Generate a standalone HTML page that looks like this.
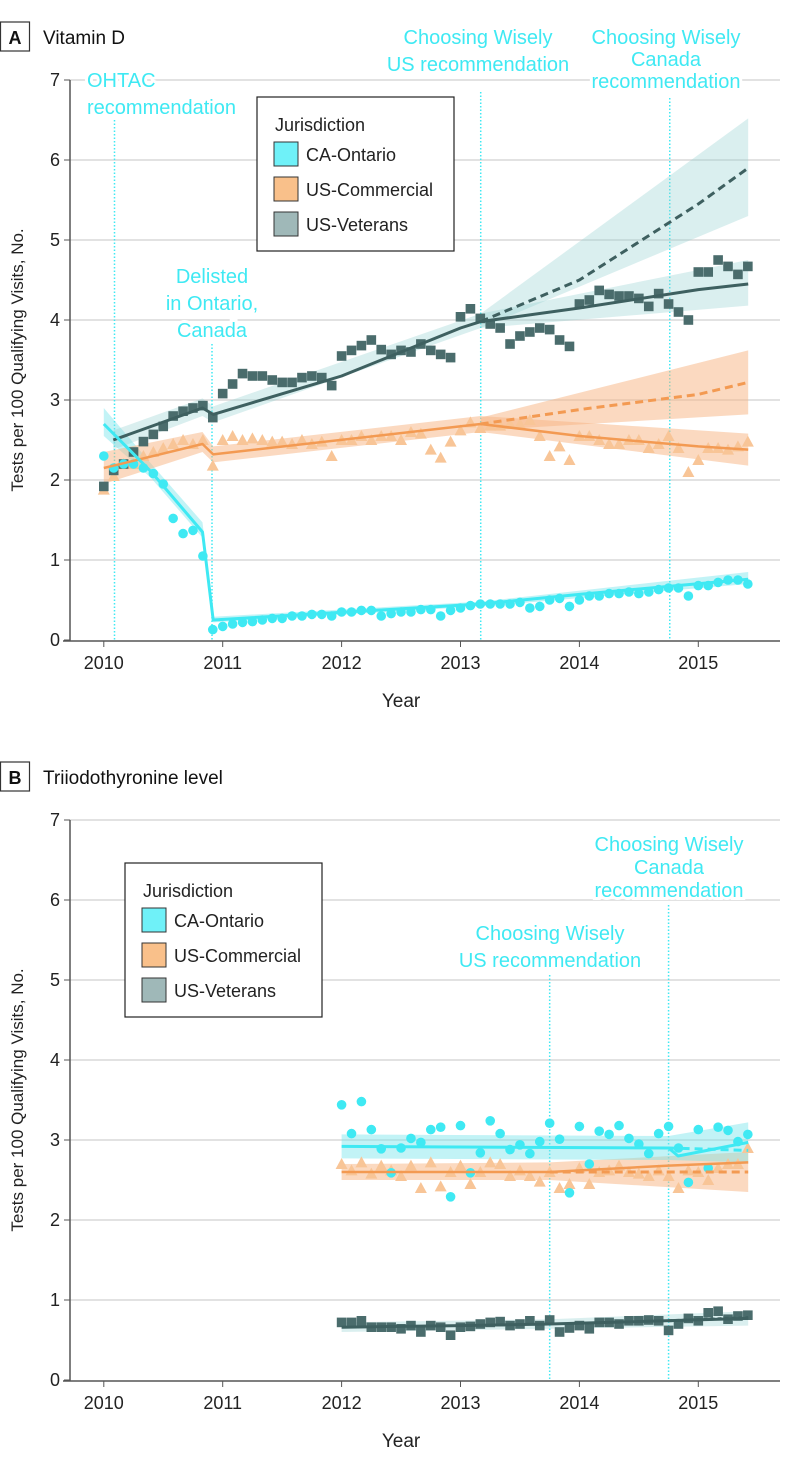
<!DOCTYPE html>
<html><head><meta charset="utf-8"><style>
html,body{margin:0;padding:0;background:#fff;}
svg{display:block;font-family:"Liberation Sans Narrow","Liberation Sans",sans-serif;}
</style></head><body>
<svg id="chart" width="794" height="1469" viewBox="0 0 794 1469" xmlns="http://www.w3.org/2000/svg"></svg>
<script>
// ---------- Panel A: Vitamin D data (monthly from 2010.0) ----------
const aOntario = [2.3,2.15,2.2,2.2,2.15,2.08,1.95,1.52,1.33,1.37,1.05,0.13,
 0.17,0.2,0.22,0.23,0.25,0.27,0.27,0.3,0.3,0.32,0.32,0.3,
 0.35,0.35,0.37,0.37,0.3,0.33,0.35,0.35,0.38,0.38,0.3,0.37,
 0.4,0.43,0.45,0.45,0.45,0.45,0.47,0.4,0.42,0.5,0.52,0.42,
 0.5,0.55,0.55,0.58,0.58,0.6,0.58,0.6,0.63,0.65,0.65,0.55,
 0.68,0.68,0.72,0.75,0.75,0.7];
const aCommercial = [1.88,2.05,2.2,2.2,2.3,2.35,2.4,2.45,2.5,2.45,2.5,2.18,
 2.5,2.55,2.5,2.52,2.5,2.48,2.48,2.45,2.5,2.45,2.48,2.3,
 2.5,2.5,2.55,2.5,2.55,2.55,2.5,2.6,2.58,2.38,2.28,2.48,
 2.62,2.72,2.65,2.68,2.68,2.7,2.7,2.75,2.55,2.3,2.42,2.25,
 2.55,2.55,2.5,2.45,2.45,2.5,2.5,2.4,2.45,2.55,2.4,2.1,
 2.25,2.4,2.4,2.38,2.42,2.48];
const aVeterans = [1.92,2.12,2.2,2.35,2.48,2.57,2.67,2.8,2.86,2.9,2.93,2.78,
 3.08,3.2,3.33,3.3,3.3,3.25,3.22,3.22,3.28,3.3,3.28,3.18,
 3.55,3.62,3.68,3.75,3.63,3.57,3.62,3.6,3.7,3.62,3.57,3.53,
 4.04,4.14,4.02,3.95,3.9,3.7,3.8,3.85,3.9,3.88,3.75,3.67,
 4.2,4.25,4.37,4.32,4.3,4.3,4.27,4.17,4.33,4.2,4.1,4.0,
 4.6,4.6,4.75,4.67,4.57,4.67];
// fitted knots [year, value]
const aOntFit = [[2010,2.7],[2010.4,2.1],[2010.83,1.35],[2010.92,0.25],[2013.17,0.45],[2014,0.57],[2015.42,0.76]];
const aOntLo  = [[2010,2.55],[2010.4,2.02],[2010.83,1.28],[2010.92,0.22],[2013.17,0.42],[2015.42,0.7]];
const aOntHi  = [[2010,2.9],[2010.4,2.2],[2010.83,1.47],[2010.92,0.29],[2013.17,0.48],[2015.42,0.85]];
const aComFit = [[2010,2.15],[2010.83,2.45],[2010.92,2.32],[2013.17,2.7],[2014,2.55],[2015,2.42],[2015.42,2.38]];
const aComLo  = [[2010,1.95],[2010.83,2.35],[2010.92,2.22],[2013.17,2.6],[2015.42,2.18]];
const aComHi  = [[2010,2.35],[2010.83,2.6],[2010.92,2.42],[2013.17,2.8],[2015.42,2.58]];
const aComCF  = [[2013.17,2.7],[2014,2.88],[2015,3.07],[2015.42,3.22]];
const aComCFLo= [[2013.17,2.62],[2015.42,2.82]];
const aComCFHi= [[2013.17,2.78],[2015.42,3.62]];
const aVetFit = [[2010.08,2.5],[2010.83,2.9],[2010.92,2.82],[2012,3.3],[2013,3.9],[2013.17,3.98],[2014,4.15],[2015,4.38],[2015.42,4.45]];
const aVetLo  = [[2010.08,2.38],[2010.83,2.8],[2010.92,2.72],[2013.17,3.9],[2015.42,4.18]];
const aVetHi  = [[2010.08,2.62],[2010.83,3.02],[2010.92,2.92],[2013.17,4.08],[2015.42,4.75]];
const aVetCF  = [[2013.17,3.98],[2014,4.5],[2015,5.45],[2015.42,5.9]];
const aVetCFLo= [[2013.17,3.9],[2015.42,5.3]];
const aVetCFHi= [[2013.17,4.08],[2015.42,6.52]];

// ---------- Panel B: Triiodothyronine data (monthly from 2012.0) ----------
const bOntario = [3.44,3.08,3.48,3.13,2.89,2.59,2.9,3.02,2.97,3.13,3.16,2.29,
 3.18,2.59,2.84,3.24,3.08,2.88,2.94,2.83,2.98,3.21,3.01,2.34,
 3.17,2.7,3.11,3.07,3.18,3.02,2.95,2.83,3.08,3.17,2.9,2.47,
 3.13,2.65,3.16,3.12,2.98,3.07];
const bCommercial = [2.7,2.62,2.72,2.58,2.68,2.62,2.55,2.68,2.4,2.72,2.42,2.6,
 2.68,2.45,2.6,2.72,2.7,2.55,2.62,2.55,2.48,2.6,2.4,2.45,
 2.65,2.45,2.6,2.62,2.68,2.6,2.58,2.55,2.62,2.55,2.4,2.62,
 2.6,2.5,2.65,2.7,2.7,2.9];
const bVeterans = [0.72,0.72,0.74,0.66,0.66,0.66,0.64,0.68,0.6,0.68,0.66,0.56,
 0.66,0.67,0.7,0.72,0.73,0.68,0.7,0.74,0.68,0.75,0.6,0.65,
 0.68,0.64,0.72,0.72,0.7,0.74,0.74,0.75,0.74,0.62,0.7,0.77,
 0.74,0.84,0.86,0.76,0.8,0.81];
const bOntFit = [[2012,2.92],[2014.75,2.9],[2014.83,2.8],[2015.42,2.97]];
const bOntLo  = [[2012,2.77],[2014.75,2.75],[2015.42,2.72]];
const bOntHi  = [[2012,3.07],[2014.75,3.05],[2015.42,3.22]];
const bOntCF  = [[2014.75,2.9],[2015.42,2.87]];
const bComFit = [[2012,2.6],[2013.75,2.6],[2014.75,2.68],[2015.42,2.72]];
const bComLo  = [[2012,2.5],[2013.75,2.5],[2015.42,2.35]];
const bComHi  = [[2012,2.7],[2013.75,2.72],[2015.42,2.85]];
const bComCF  = [[2013.75,2.6],[2015.42,2.6]];
const bVetFit = [[2012,0.66],[2013,0.68],[2013.75,0.7],[2015.42,0.77]];
const bVetLo  = [[2012,0.6],[2013.75,0.64],[2015.42,0.68]];
const bVetHi  = [[2012,0.72],[2013.75,0.76],[2015.42,0.86]];
const bVetCF  = [[2014.75,0.74],[2015.42,0.78]];

const yTicks = [0,1,2,3,4,5,6,7];
const xTicks = [2010,2011,2012,2013,2014,2015];

const NS = "http://www.w3.org/2000/svg";
const svg = document.getElementById("chart");
const CYAN="#3fe9f3", CYANBAND="rgba(120,228,236,0.45)";
const ORL="#f39a52", ORPT="#f8c597", ORBAND="rgba(248,180,130,0.5)";
const VET="#3e6060", VETPT="#4a6c6c", VETBAND="rgba(150,210,210,0.35)";

function mk(tag, attrs, parent){const e=document.createElementNS(NS,tag);for(const k in attrs)e.setAttribute(k,attrs[k]);(parent||svg).appendChild(e);return e;}
const X0=103.8, XS=118.9;
function xs(v){return X0+(v-2010)*XS;}

function panel(y0, key){
  const ys = v => y0 - v*80;
  const g = mk("g",{});
  
  
  // gridlines
  yTicks.forEach(t=>{ if(t>0){const l=mk("line",{x1:70,x2:780,y1:ys(t),y2:ys(t),stroke:"#d9d9d9","stroke-width":1.5},g);
    }
    const tk=mk("line",{x1:64,x2:70,y1:ys(t),y2:ys(t),stroke:"#555"},g);
    
    const tx=mk("text",{x:60,y:ys(t)+6,"text-anchor":"end","font-size":18,fill:"#222"},g);tx.textContent=t;
    
  });
  const ax=mk("line",{x1:70,x2:70,y1:ys(7),y2:y0+1,stroke:"#555","stroke-width":1.5},g);
  
  const bx=mk("line",{x1:63,x2:780,y1:y0+1,y2:y0+1,stroke:"#555","stroke-width":1.5},g);
  
  xTicks.forEach(t=>{const tk=mk("line",{x1:xs(t),x2:xs(t),y1:y0+1,y2:y0+7,stroke:"#555"},g);
    
    const tx=mk("text",{x:xs(t),y:y0+29,"text-anchor":"middle","font-size":18,fill:"#222"},g);tx.textContent=t;
    });
  const xt=mk("text",{x:xs(2012.5),y:y0+67,"text-anchor":"middle","font-size":19,fill:"#222"},g);xt.textContent="Year";
  
  const yt=mk("text",{x:0,y:0,"text-anchor":"middle","font-size":17,fill:"#222",transform:`translate(23,${ys(3.5)}) rotate(-90)`},g);
  yt.textContent="Tests per 100 Qualifying Visits, No.";
  
  return {g, ys};
}
function pts(arr, ys){return arr.map(p=>xs(p[0]).toFixed(1)+","+ys(p[1]).toFixed(1));}
function band(lo,hi,ys,fill,g,name){
  const d="M"+pts(lo,ys).join("L")+"L"+pts(hi.slice().reverse(),ys).join("L")+"Z";
  const p=mk("path",{d,fill,stroke:"none"},g);
  
}
function line(arr,ys,stroke,dash,g,name,w){
  const p=mk("polyline",{points:pts(arr,ys).join(" "),fill:"none",stroke,"stroke-width":w||3,"stroke-dasharray":dash||"none","stroke-linejoin":"round"},g);
  
}
function marks(vals,start,ys,type,fill,g,name){
  vals.forEach((v,i)=>{const x=xs(start+i/12), y=ys(v); let m;
    if(type==="c") m=mk("circle",{cx:x,cy:y,r:4.8,fill},g);
    else if(type==="s") m=mk("rect",{x:x-4.8,y:y-4.8,width:9.6,height:9.6,fill},g);
    else m=mk("path",{d:`M${x-6},${y+5}L${x+6},${y+5}L${x},${y-6}Z`,fill},g);
    });
}
function vline(year,ytop,y0,g){const l=mk("line",{x1:xs(year),x2:xs(year),y1:ytop,y2:y0,stroke:CYAN,"stroke-width":1.5,"stroke-dasharray":"1.5 2"},g);
  }
function note(lines,x,y,lh,anchor,g,name){
  lines.forEach((s,i)=>{const t=mk("text",{x,y:y+i*lh,"text-anchor":anchor,"font-size":20,fill:CYAN,stroke:"#fff","stroke-width":6,"paint-order":"stroke"},g);t.textContent=s;
    });
}
function legend(x,y,g){
  const box=mk("rect",{x,y,width:197,height:154,fill:"#fff",stroke:"#222","stroke-width":1.2},g);
  
  const h=mk("text",{x:x+18,y:y+34,"font-size":18,fill:"#222"},g);h.textContent="Jurisdiction";
  
  [["CA-Ontario","#6ff1f8"],["US-Commercial","#f9c08a"],["US-Veterans","#9fb8b8"]].forEach((e,i)=>{
    const sw=mk("rect",{x:x+17,y:y+45+i*35,width:24,height:24,fill:e[1],stroke:"#333","stroke-width":1},g);
    
    const t=mk("text",{x:x+49,y:y+64+i*35,"font-size":18,fill:"#222"},g);t.textContent=e[0];
    });
}
function label(letter,title,y){
  const r=mk("rect",{x:0.5,y,width:29,height:29,fill:"#fff",stroke:"#333","stroke-width":1.2});
  
  const l=mk("text",{x:15,y:y+22,"text-anchor":"middle","font-size":18,"font-weight":"bold",fill:"#111"});l.textContent=letter;
  
  const t=mk("text",{x:43,y:y+22,"font-size":19,fill:"#111"});t.textContent=title;
  
}

// Panel A
label("A","Vitamin D",22);
const A=panel(640,'vitamin-d');
vline(2010.09,120,640,A.g); vline(2010.91,344,640,A.g); vline(2013.17,92,640,A.g); vline(2014.76,98,640,A.g);
band(aVetCFLo,aVetCFHi,A.ys,VETBAND,A.g,'veterans-counterfactual-band');
band(aComCFLo,aComCFHi,A.ys,ORBAND,A.g,'commercial-counterfactual-band');
band(aOntLo,aOntHi,A.ys,CYANBAND,A.g,'ontario-band');
band(aComLo,aComHi,A.ys,ORBAND,A.g,'commercial-band');
band(aVetLo,aVetHi,A.ys,VETBAND,A.g,'veterans-band');
marks(aCommercial,2010,A.ys,"t",ORPT,A.g,'commercial-point');
marks(aVeterans,2010,A.ys,"s",VETPT,A.g,'veterans-point');
marks(aOntario,2010,A.ys,"c",CYAN,A.g,'ontario-point');
line(aComCF,A.ys,ORL,"8 5",A.g,'commercial-counterfactual-line');
line(aVetCF,A.ys,VET,"8 5",A.g,'veterans-counterfactual-line');
line(aComFit,A.ys,ORL,null,A.g,'commercial-fit-line',2.5);
line(aVetFit,A.ys,VET,null,A.g,'veterans-fit-line');
line(aOntFit,A.ys,CYAN,null,A.g,'ontario-fit-line');
note(["OHTAC","recommendation"],87,87,27,"start",A.g,'ohtac-annotation');
note(["Delisted","in Ontario,","Canada"],212,283,27,"middle",A.g,'delisted-annotation');
note(["Choosing Wisely","US recommendation"],478,44,27,"middle",A.g,'choosing-wisely-us-annotation');
note(["Choosing Wisely","Canada","recommendation"],666,44,22,"middle",A.g,'choosing-wisely-canada-annotation');
legend(257,97,A.g);

// Panel B
label("B","Triiodothyronine level",762);
const B=panel(1380,'triiodothyronine');
vline(2013.75,975,1380,B.g); vline(2014.75,905,1380,B.g);
band(bComLo,bComHi,B.ys,ORBAND,B.g,'commercial-band');
band(bOntLo,bOntHi,B.ys,CYANBAND,B.g,'ontario-band');
band(bVetLo,bVetHi,B.ys,VETBAND,B.g,'veterans-band');
marks(bCommercial,2012,B.ys,"t",ORPT,B.g,'commercial-point');
marks(bOntario,2012,B.ys,"c",CYAN,B.g,'ontario-point');
marks(bVeterans,2012,B.ys,"s",VETPT,B.g,'veterans-point');
line(bComCF,B.ys,ORL,"8 5",B.g,'commercial-counterfactual-line');
line(bOntCF,B.ys,CYAN,"8 5",B.g,'ontario-counterfactual-line');
line(bVetCF,B.ys,VET,"4 3",B.g,'veterans-counterfactual-line');
line(bComFit,B.ys,ORL,null,B.g,'commercial-fit-line',2.5);
line(bOntFit,B.ys,CYAN,null,B.g,'ontario-fit-line');
line(bVetFit,B.ys,VET,null,B.g,'veterans-fit-line');
note(["Choosing Wisely","US recommendation"],550,940,27,"middle",B.g,'choosing-wisely-us-annotation');
note(["Choosing Wisely","Canada","recommendation"],669,851,23,"middle",B.g,'choosing-wisely-canada-annotation');
legend(125,863,B.g);
</script>
</body></html>
